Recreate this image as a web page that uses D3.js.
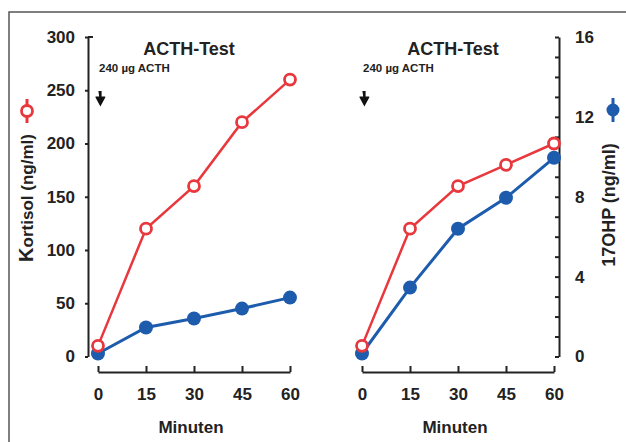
<!DOCTYPE html>
<html>
<head>
<meta charset="utf-8">
<script src="https://cdn.jsdelivr.net/npm/d3@7"></script>
<style>
  body { margin: 0; background: #fff; }
  svg { font-family: "Liberation Sans", Arial, sans-serif; font-weight: bold; }
</style>
</head>
<body>
<svg></svg>
<script>
// minutes after ACTH
let minutes = [0, 15, 30, 45, 60]
// Kortisol (ng/ml), red open circles
let kortisolLeft = [10, 120, 160, 220, 260]
let kortisolRight = [10, 120, 160, 180, 200]
// 17OHP (ng/ml), blue filled circles
let ohpLeft = [0.15, 1.45, 1.9, 2.4, 2.95]
let ohpRight = [0.15, 3.45, 6.4, 7.95, 9.95]

let kortisolTicks = [0, 50, 100, 150, 200, 250, 300]
let ohpTicks = d3.range(0, 17)
let ohpLabels = [0, 4, 8, 12, 16]

let width = 626
let height = 442
let red = '#e8383d'
let blue = '#1d5cad'
let ink = '#222'

let svg = d3.select('svg')
    .attr('width', width)
    .attr('height', height)

// frame (only left and top edges show)
svg.append('path')
    .attr('d', 'M9,' + height + 'V12H' + width)
    .attr('fill', 'none')
    .attr('stroke', '#555')
    .attr('stroke-width', 1.5)

let xLeft = d3.scaleLinear().domain([0, 60]).range([98, 290])
let xRight = d3.scaleLinear().domain([0, 60]).range([362, 554])
let yK = d3.scaleLinear().domain([0, 300]).range([356.5, 37])
let yO = d3.scaleLinear().domain([0, 16]).range([356.5, 37])

let styleAxis = (g) => {
    g.selectAll('path, line').attr('stroke', ink).attr('stroke-width', 2)
    g.selectAll('text').attr('fill', ink).style('font-size', '17px').style('font-weight', 'bold')
        .style('font-family', '"Liberation Sans", Arial, sans-serif')
}

// x axes with "Minuten" title
let xAxisY = 372
;[xLeft, xRight].forEach((xs) => {
    let g = svg.append('g')
        .attr('transform', 'translate(0,' + xAxisY + ')')
        .call(d3.axisBottom(xs).tickValues(minutes).tickSize(-6).tickSizeOuter(0).tickPadding(16))
    styleAxis(g)
    svg.append('text')
        .attr('x', (xs.range()[0] + xs.range()[1]) / 2 - 3)
        .attr('y', 433)
        .attr('text-anchor', 'middle')
        .attr('fill', ink)
        .style('font-size', '17px')
        .text('Minuten')
})

// left y axis (Kortisol)
let yLeftG = svg.append('g')
    .attr('transform', 'translate(88,0)')
    .call(d3.axisLeft(yK).tickValues(kortisolTicks).tickSize(3).tickSizeOuter(0).tickPadding(10))
styleAxis(yLeftG)
yLeftG.append('line')
    .attr('x1', 0).attr('x2', 5)
    .attr('y1', yK(300)).attr('y2', yK(300))
    .attr('stroke', ink).attr('stroke-width', 2)

// right y axis (17OHP)
let yRightG = svg.append('g')
    .attr('transform', 'translate(559,0)')
    .call(d3.axisRight(yO).tickValues(ohpTicks).tickSize(-4).tickSizeOuter(0).tickPadding(16)
        .tickFormat((d) => ohpLabels.includes(d) ? d : ''))
styleAxis(yRightG)

// axis titles
svg.append('text')
    .attr('transform', 'translate(33,' + 198 + ') rotate(-90)')
    .attr('text-anchor', 'middle')
    .attr('fill', ink)
    .style('font-size', '17px')
    .html('<tspan style="font-size:20px">K</tspan>ortisol (ng/ml)')

svg.append('text')
    .attr('transform', 'translate(615,' + 205 + ') rotate(-90)')
    .attr('text-anchor', 'middle')
    .attr('fill', ink)
    .style('font-size', '18px')
    .text('17OHP (ng/ml)')

// legend markers next to axis titles
let legendMark = (cx, cy, color, filled) => {
    svg.append('line')
        .attr('x1', cx).attr('x2', cx)
        .attr('y1', cy - 12).attr('y2', cy + 12)
        .attr('stroke', color).attr('stroke-width', 3)
    svg.append('circle')
        .attr('cx', cx).attr('cy', cy).attr('r', filled ? 6.5 : 5.5)
        .attr('fill', filled ? color : '#fff')
        .attr('stroke', color).attr('stroke-width', filled ? 0 : 2.8)
}
legendMark(27, 111, red, false)
legendMark(613, 110, blue, true)

// titles, dose label and arrow for each panel
let drawHeader = (xs) => {
    let mid = (xs.range()[0] + xs.range()[1]) / 2 - 5
    svg.append('text')
        .attr('x', mid).attr('y', 55)
        .attr('text-anchor', 'middle')
        .attr('fill', ink)
        .style('font-size', '18px')
        .text('ACTH-Test')
    svg.append('text')
        .attr('x', xs(0) + 1).attr('y', 72)
        .attr('fill', ink)
        .style('font-size', '11.5px')
        .text('240 µg ACTH')
    let ax = xs(0) + 2
    svg.append('path')
        .attr('d', 'M' + (ax - 1.6) + ',91h3.2v5.5h3.6q0.4,0.8 -0.2,1.6l-4.6,8.4l-4.6,-8.4q-0.6,-0.8 -0.2,-1.6h3.6z')
        .attr('fill', '#111')
}
drawHeader(xLeft)
drawHeader(xRight)

// series
let drawSeries = (xs, ys, values, color, filled, lw) => {
    let pts = minutes.map((m, i) => [m, values[i]])
    svg.append('path')
        .datum(pts)
        .attr('fill', 'none')
        .attr('stroke', color)
        .attr('stroke-width', lw)
        .attr('d', d3.line().x((d) => xs(d[0])).y((d) => ys(d[1])))
    svg.selectAll(null)
        .data(pts)
        .enter()
        .append('circle')
        .attr('cx', (d) => xs(d[0]))
        .attr('cy', (d) => ys(d[1]))
        .attr('r', filled ? 7 : 5.5)
        .attr('fill', filled ? color : '#fff')
        .attr('stroke', color)
        .attr('stroke-width', filled ? 0 : 2.8)
}

drawSeries(xLeft, yO, ohpLeft, blue, true, 3)
drawSeries(xLeft, yK, kortisolLeft, red, false, 2.5)
drawSeries(xRight, yO, ohpRight, blue, true, 3)
drawSeries(xRight, yK, kortisolRight, red, false, 2.5)
</script>
</body>
</html>
